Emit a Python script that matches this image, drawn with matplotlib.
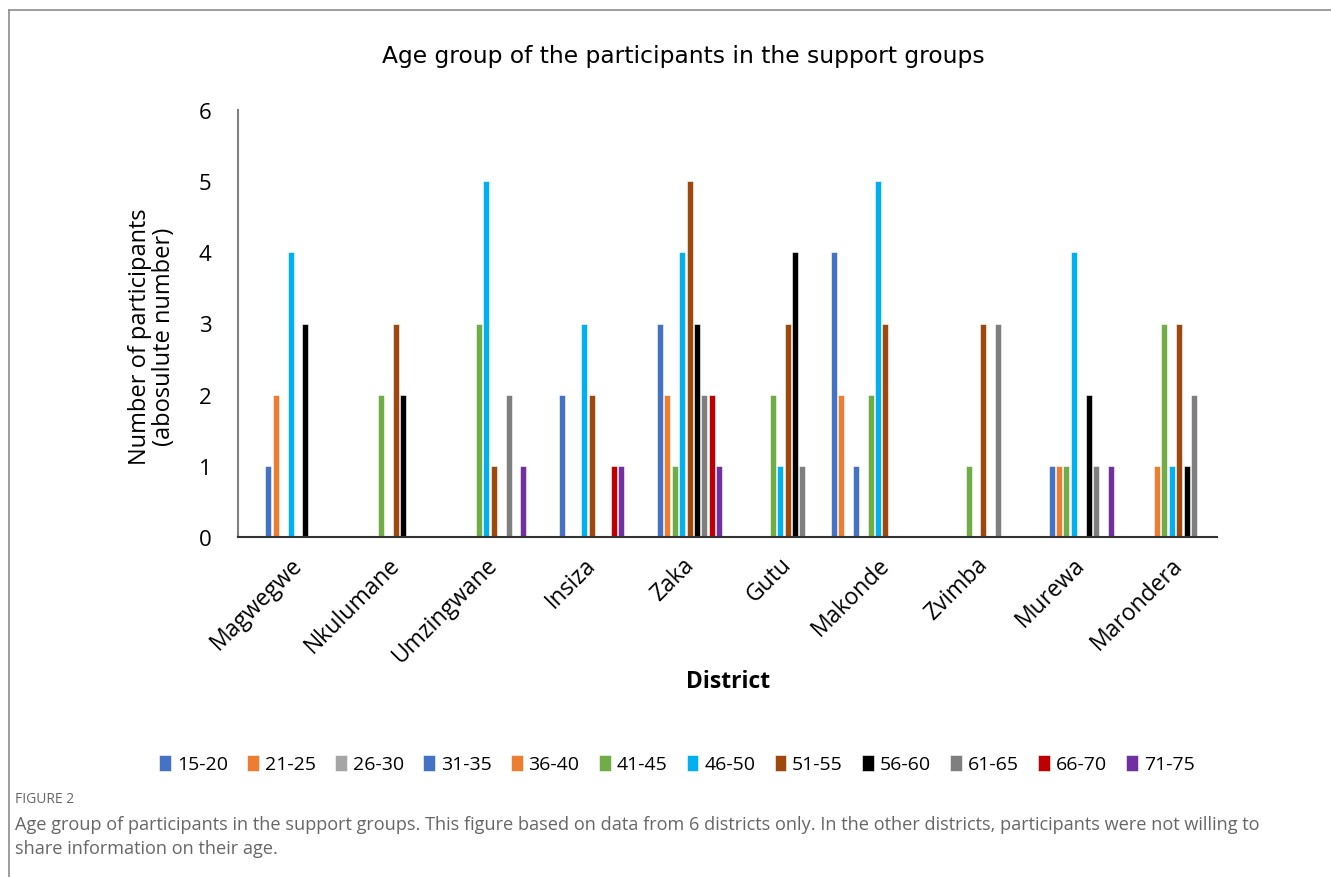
import numpy as np
import matplotlib
matplotlib.use("Agg")
import matplotlib.pyplot as plt
import matplotlib.transforms as mtransforms
from matplotlib.lines import Line2D

districts = ["Magwegwe", "Nkulumane", "Umzingwane", "Insiza", "Zaka",
             "Gutu", "Makonde", "Zvimba", "Murewa", "Marondera"]

age_groups = ["15-20", "21-25", "26-30", "31-35", "36-40", "41-45",
              "46-50", "51-55", "56-60", "61-65", "66-70", "71-75"]

age_15_20 = [0, 0, 0, 0, 0, 0, 4, 0, 0, 0]
age_21_25 = [0, 0, 0, 0, 0, 0, 2, 0, 0, 0]
age_26_30 = [0, 0, 0, 0, 0, 0, 0, 0, 0, 0]
age_31_35 = [1, 0, 0, 2, 3, 0, 1, 0, 1, 0]
age_36_40 = [2, 0, 0, 0, 2, 0, 0, 0, 1, 1]
age_41_45 = [0, 2, 3, 0, 1, 2, 2, 1, 1, 3]
age_46_50 = [4, 0, 5, 3, 4, 1, 5, 0, 4, 1]
age_51_55 = [0, 3, 1, 2, 5, 3, 3, 3, 0, 3]
age_56_60 = [3, 2, 0, 0, 3, 4, 0, 0, 2, 1]
age_61_65 = [0, 0, 2, 0, 2, 1, 0, 3, 1, 2]
age_66_70 = [0, 0, 0, 1, 2, 0, 0, 0, 0, 0]
age_71_75 = [0, 0, 1, 1, 1, 0, 0, 0, 1, 0]

series = [age_15_20, age_21_25, age_26_30, age_31_35, age_36_40, age_41_45,
          age_46_50, age_51_55, age_56_60, age_61_65, age_66_70, age_71_75]

colours = ["#4472C4", "#ED7D31", "#A5A5A5", "#4472C4", "#ED7D31", "#70AD47",
           "#00B0F0", "#9E480E", "#000000", "#7F7F7F", "#C00000", "#7030A0"]

W, H = 1331, 878
fig = plt.figure(figsize=(W / 100, H / 100), dpi=100)
ax = fig.add_axes([238 / W, 1 - 538 / H, (1217 - 238) / W, (538 - 111) / H])

x = np.arange(len(districts))
slot = 0.0756
for i, (vals, col, lab) in enumerate(zip(series, colours, age_groups)):
    ax.bar(x + (i - 5.5) * slot, vals, width=slot * 0.8, color=col,
           edgecolor="white", linewidth=0.4, label=lab)

ax.set_xlim(-0.5, len(districts) - 0.5)
ax.set_ylim(0, 6)
ax.set_yticks(range(7))
ax.tick_params(axis="y", length=0, pad=19, labelsize=16)
ax.tick_params(axis="x", length=0, pad=11, labelsize=16.5)
ax.set_xticks(x)
ax.set_xticklabels(districts, rotation=45, ha="right", rotation_mode="anchor",
                   fontfamily="Open Sans")
# nudge the rotated district names so they end right under each group
shift = mtransforms.ScaledTranslation(3 / 100, 0, fig.dpi_scale_trans)
for t in ax.get_xticklabels():
    t.set_transform(t.get_transform() + shift)
for t in ax.get_yticklabels():
    t.set_fontfamily("Open Sans")

for s in ["top", "right"]:
    ax.spines[s].set_visible(False)
ax.spines["left"].set_color("#7f7f7f")
ax.spines["left"].set_linewidth(1.5)
ax.spines["bottom"].set_color("#333333")
ax.spines["bottom"].set_linewidth(1.5)

fig.text(683 / W, 1 - 57 / H, "Age group of the participants in the support groups",
         ha="center", va="center", fontsize=16.8, family="DejaVu Sans")
fig.text(152 / W, 1 - 337 / H, "Number of participants\n(abosulute number)",
         ha="center", va="center", rotation=90, fontsize=17,
         family="Open Sans", linespacing=1.0)
fig.text(728 / W, 1 - 682 / H, "District", ha="center", va="center",
         fontsize=16.5, fontweight="bold", family="Open Sans")

fig.legend(loc="center", bbox_to_anchor=(677 / W, 1 - 765 / H), ncol=12,
           frameon=False, handlelength=0.6, handleheight=0.9,
           handletextpad=0.3, columnspacing=1.0,
           prop={"family": "Open Sans", "size": 14})

fig.text(15 / W, 1 - 800 / H, "FIGURE 2", ha="left", va="center",
         fontsize=10, color="#666666", family="Open Sans")
fig.text(15 / W, 1 - 837 / H,
         "Age group of participants in the support groups. This figure based on data "
         "from 6 districts only. In the other districts, participants were not willing to\n"
         "share information on their age.",
         ha="left", va="center", fontsize=13.1, color="#666666",
         family="Open Sans", linespacing=1.45)

fig.add_artist(Line2D([9 / W, 1], [1 - 11 / H, 1 - 11 / H], color="#8c8c8c", lw=1.2))
fig.add_artist(Line2D([9 / W, 9 / W], [0, 1 - 11 / H], color="#8c8c8c", lw=1.2))

fig.savefig("out.png", dpi=100)
